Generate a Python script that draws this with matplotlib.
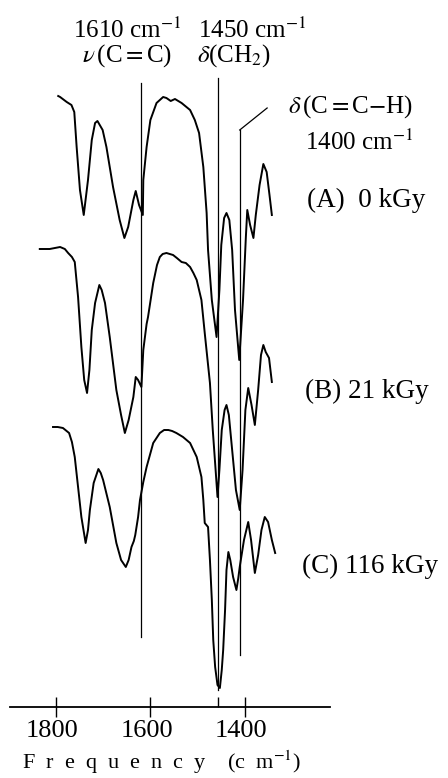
import matplotlib
matplotlib.use("Agg")
import matplotlib.pyplot as plt
from matplotlib.transforms import ScaledTranslation

plt.rcParams['font.family'] = ['Liberation Serif', 'DejaVu Serif']
plt.rcParams['mathtext.fontset'] = 'stix'

# IR spectra (wavenumber in cm-1, transmittance in a.u., already offset)
wn_A = [1795, 1791, 1777, 1767, 1761, 1756, 1749, 1741, 1732, 1724, 1717, 1712,
        1701, 1693, 1679, 1665, 1655, 1647, 1636, 1631, 1624, 1616, 1615, 1608,
        1600, 1587, 1573, 1566, 1557, 1548, 1534, 1516, 1506, 1497, 1488, 1481,
        1478, 1470, 1460, 1454, 1450, 1444, 1439, 1433, 1427, 1421, 1412, 1404,
        1398, 1395, 1389, 1382, 1377, 1369, 1361, 1354, 1348, 1343]
T_A = [611, 610, 605, 602, 595, 560, 517, 492, 527, 567, 584, 586,
       577, 560, 520, 487, 469, 480, 507, 516, 502, 492, 527, 560,
       587, 604, 610, 609, 606, 608, 604, 597, 587, 574, 540, 494,
       457, 407, 370, 417, 462, 489, 494, 487, 457, 397, 347, 407,
       470, 497, 482, 469, 492, 522, 543, 535, 512, 492]

wn_B = [1834, 1813, 1791, 1781, 1774, 1766, 1760, 1753, 1746, 1740, 1734, 1729,
        1724, 1717, 1708, 1703, 1696, 1686, 1672, 1662, 1654, 1646, 1636, 1631,
        1626, 1619, 1615, 1608, 1605, 1594, 1586, 1580, 1574, 1566, 1559, 1552,
        1544, 1534, 1525, 1516, 1509, 1502, 1492, 1485, 1474, 1468, 1462, 1458,
        1454, 1449, 1443, 1439, 1434, 1427, 1419, 1411, 1405, 1399, 1393, 1386,
        1379, 1372, 1366, 1361, 1356, 1349, 1343]
T_B = [458, 458, 460, 458, 454, 450, 445, 410, 360, 327, 314, 337,
       377, 404, 422, 417, 404, 370, 317, 292, 274, 287, 310, 330,
       327, 320, 357, 383, 390, 424, 442, 450, 453, 454, 453, 452,
       449, 445, 444, 440, 434, 427, 407, 374, 324, 277, 237, 210,
       237, 277, 297, 302, 292, 257, 217, 197, 237, 297, 319, 302,
       282, 317, 352, 362, 355, 349, 325]

wn_C = [1806, 1796, 1785, 1772, 1766, 1760, 1753, 1746, 1737, 1732, 1728, 1720,
        1710, 1705, 1700, 1686, 1672, 1662, 1652, 1646, 1640, 1635, 1632, 1626,
        1622, 1615, 1608, 1594, 1580, 1571, 1562, 1554, 1545, 1531, 1516, 1502,
        1492, 1488, 1485, 1478, 1474, 1470, 1467, 1463, 1458, 1453, 1449, 1446,
        1442, 1439, 1435, 1431, 1425, 1418, 1414, 1411, 1402, 1393, 1387, 1379,
        1372, 1365, 1358, 1351, 1343, 1336]
T_C = [280, 280, 279, 274, 265, 250, 220, 190, 164, 177, 197, 224,
       238, 234, 227, 200, 164, 147, 140, 147, 160, 166, 172, 190,
       207, 225, 240, 264, 274, 277, 277, 276, 274, 270, 264, 250,
       230, 207, 184, 180, 147, 107, 67, 40, 22, 19, 37, 57,
       97, 137, 155, 147, 130, 117, 129, 140, 167, 185, 167, 134,
       152, 177, 190, 185, 167, 154]

# assignment lines: position, top, bottom
band_wn = [1620, 1457, 1411]
band_top = [624, 629, 577]
band_bottom = [70, 17, 52]
band_labels = ['1610 cm$^{-1}$', '1450 cm$^{-1}$', '1400 cm$^{-1}$']
band_modes = [r'$\nu\,$(C$=$C)', r'$\delta$(CH$_2$)', r'$\delta\,$(C$=$C$-$H)']

doses = ['(A)  0 kGy', '(B) 21 kGy', '(C) 116 kGy']

xticks = [1800, 1600, 1400]

fig = plt.figure(figsize=(4.48, 7.78), dpi=100)
ax = fig.add_axes([10/448, 71/778, 320/448, 707/778])
ax.set_xlim(1897, 1220)
ax.set_ylim(0, 707)

for wn, T in [(wn_A, T_A), (wn_B, T_B), (wn_C, T_C)]:
    ax.plot(wn, T, color='black', lw=1.4, solid_joinstyle='round')

for x, top, bot in zip(band_wn, band_top, band_bottom):
    ax.plot([x, x], [bot, top], color='black', lw=0.9)
# leader line for the 1400 band label
ax.plot([band_wn[2], 1353], [band_top[2], 599], color='black', lw=0.9)

ax.text(1764, 669, band_labels[0], fontsize=18, va='baseline')
ax.text(1499, 669, band_labels[1], fontsize=18, va='baseline')
ax.text(1745, 645, band_modes[0], fontsize=18, va='baseline')
ax.text(1501, 645, band_modes[1], fontsize=18, va='baseline')
ax.text(1309, 594, band_modes[2], fontsize=18, va='baseline')
ax.text(1273, 557, band_labels[2], fontsize=18, va='baseline')

for label, x, y in zip(doses, [1269, 1273, 1279], [500, 309, 134]):
    ax.text(x, y, label, fontsize=19.5, va='baseline')

for side in ['left', 'right', 'top']:
    ax.spines[side].set_visible(False)
ax.spines['bottom'].set_linewidth(1.3)
ax.set_yticks([])
ax.set_xticks(xticks)
ax.set_xticks([band_wn[1]], minor=True)
ax.tick_params(axis='x', which='major', direction='inout', length=15, width=1,
               labelsize=19, pad=2)
ax.tick_params(axis='x', which='minor', direction='in', length=7, width=1)
shift = ScaledTranslation(-3.5/100, 0, fig.dpi_scale_trans)
for lab in ax.get_xticklabels():
    lab.set_transform(lab.get_transform() + shift)

ax.set_xlabel('F  r  e  q  u  e  n  c  y    (c  m$^{-1}$)', fontsize=16)
ax.xaxis.label.set_va('baseline')
ax.xaxis.set_label_coords(0.473, -0.0877)

fig.savefig('out.png', dpi=100)
